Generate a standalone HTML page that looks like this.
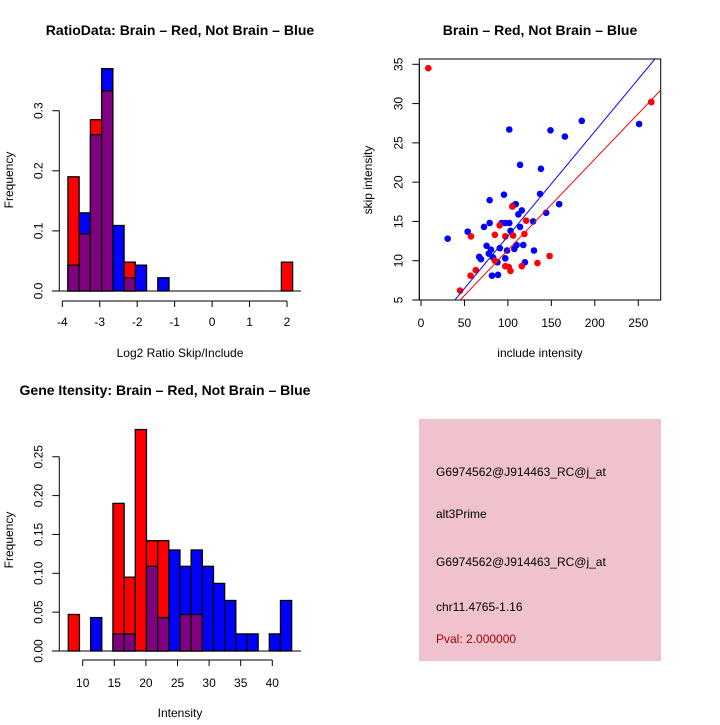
<!DOCTYPE html>
<html><head><meta charset="utf-8"><style>
body{margin:0;background:#fff}
svg text{font-family:"Liberation Sans",sans-serif;fill:#000}
</style></head><body>
<svg id="c" width="720" height="720" xmlns="http://www.w3.org/2000/svg">
<g id="p1"></g>
<g id="p2"></g>
<g id="p3"></g>
<g id="p4">
<rect x="419" y="419" width="242" height="242" fill="#f0c2cd"/>
<text x="436" y="476" font-size="12">G6974562@J914463_RC@j_at</text>
<text x="436" y="518" font-size="12">alt3Prime</text>
<text x="436" y="566" font-size="12">G6974562@J914463_RC@j_at</text>
<text x="436" y="611" font-size="12">chr11.4765-1.16</text>
<text x="436" y="643" font-size="12" style="fill:#a00000">Pval: 2.000000</text>
</g>
</svg>
<script>
// ---- Ratio histogram data ----
const ratioBinStarts=[-3.85,-3.55,-3.25,-2.95,-2.65,-2.35,-2.05,-1.45,1.85];
const ratioRed=[0.19,0.095,0.285,0.333,0,0.048,0,0,0.048];
const ratioBlue=[0.043,0.13,0.26,0.37,0.109,0.022,0.043,0.022,0];
const ratioBinWidth=0.3;
const ratioXTicks=[-4,-3,-2,-1,0,1,2];
const ratioYTicks=[0,0.1,0.2,0.3];
// ---- Scatter data ----
const redX=[8.4,45,57,57.5,63,85,85,90.5,97,97,101,103,105,106,116,119,121,134,148,265];
const redY=[34.5,6.2,8.1,13.1,8.8,13.3,10,14.5,13.1,9.3,9.2,8.7,16.9,13.2,9.3,13.4,15.1,9.7,10.6,30.2];
const blueX=[30.7,53.7,72.5,75.5,79,79,78,80.5,67,69,83,81.7,88.6,88,90.7,92.8,95.5,97,97,99,101.6,101.6,103,106,109,107.4,110,112,114,114,116,117.7,119.6,129,130,137,138,144,149,159,165.6,185,251,265];
const blueY=[12.8,13.7,14.3,11.9,17.7,14.8,10.9,11.4,10.5,10.2,10.4,8.1,8.2,9.8,11.6,14.8,18.4,14.8,10.3,11.3,26.7,14.8,13.8,17,17.2,11.5,12,15.9,22.2,14.3,16.4,12,9.8,15,11.3,18.5,21.7,16.1,26.6,17.2,25.8,27.8,27.4,30.2];
const blueFit=[-0.19,0.1332];
const redFit=[-0.21,0.1157];
const scXTicks=[0,50,100,150,200,250];
const scYTicks=[5,10,15,20,25,30,35];
// ---- Gene intensity histogram ----
const geneBinStart=7.72, geneBinWidth=1.767;
const geneRed=[0.047,0,0,0,0.19,0.095,0.285,0.142,0.142,0,0.047,0.047,0,0,0,0,0,0,0,0];
const geneBlue=[0,0,0.043,0,0.022,0.022,0,0.109,0.043,0.13,0.109,0.13,0.109,0.087,0.065,0.022,0.022,0,0.022,0.065];
const geneXTicks=[10,15,20,25,30,35,40];
const geneYTicks=[0,0.05,0.1,0.15,0.2,0.25];
const geneYLabels=["0.00","0.05","0.10","0.15","0.20","0.25"];

const NS="http://www.w3.org/2000/svg";
function mk(parent,tag,attrs,txt){const e=document.createElementNS(NS,tag);for(const k in attrs)e.setAttribute(k,attrs[k]);if(txt!==undefined)e.textContent=txt;parent.appendChild(e);return e;}

function yAxis(g,ticks,labels,sy,x){
  const ax=mk(g,'line',{x1:x,x2:x,y1:sy(ticks[0]),y2:sy(ticks[ticks.length-1]),stroke:'#000'});
  
  
  ticks.forEach((t,i)=>{
    mk(g,'line',{x1:x-7,x2:x,y1:sy(t),y2:sy(t),stroke:'#000'});
    const tx=mk(g,'text',{x:x-17,y:sy(t),'font-size':12,'text-anchor':'middle',transform:`rotate(-90 ${x-17} ${sy(t)})`},labels[i]);
    
    
  });
}
function xAxis(g,ticks,labels,sx,y,ly){
  const ax=mk(g,'line',{x1:sx(ticks[0]),x2:sx(ticks[ticks.length-1]),y1:y,y2:y,stroke:'#000'});
  
  
  ticks.forEach((t,i)=>{
    mk(g,'line',{x1:sx(t),x2:sx(t),y1:y,y2:y+6,stroke:'#000'});
    const tx=mk(g,'text',{x:sx(t),y:ly,'font-size':12,'text-anchor':'middle'},labels[i]);
    
    
  });
}
function label(g,x,y,txt,name,opts){
  const a=Object.assign({x:x,y:y,'font-size':12,'text-anchor':'middle'},opts||{});
  const t=mk(g,'text',a,txt);
  
  
}
function histBars(g,starts,w,red,blue,sx,sy){
  starts.forEach((s,i)=>{
    const r=red[i],b=blue[i];const mx=Math.max(r,b),mn=Math.min(r,b);
    if(mx<=0)return;
    const x0=sx(s),x1=sx(s+w);
    const bar=mk(g,'rect',{x:x0,y:sy(mx),width:x1-x0,height:sy(0)-sy(mx),fill:r>=b?'#ff0000':'#0000ff',stroke:'#000','stroke-width':1.3});
    
    
    if(mn>0){
      const ov=mk(g,'rect',{x:x0,y:sy(mn),width:x1-x0,height:sy(0)-sy(mn),fill:'#800080',stroke:'#000','stroke-width':1.3});
      
      
    }
  });
}

// Panel 1
(function(){
  const g=document.getElementById('p1');
  const sx=v=>62.3+(v+4)*37.45, sy=v=>291-v*601;
  histBars(g,ratioBinStarts,ratioBinWidth,ratioRed,ratioBlue,sx,sy);
  mk(g,'line',{x1:52,x2:301,y1:291,y2:291,stroke:'#000'});
  yAxis(g,ratioYTicks,["0.0","0.1","0.2","0.3"],sy,59.3);
  xAxis(g,ratioXTicks,ratioXTicks.map(String),sx,301,326);
  label(g,180,35,'RatioData: Brain – Red, Not Brain – Blue','plot-title',{'font-weight':'bold','font-size':14});
  label(g,180,357,'Log2 Ratio Skip/Include','x-axis-title');
  label(g,13,180,'Frequency','y-axis-title',{transform:'rotate(-90 13 180)'});
})();

// Panel 2
(function(){
  const g=document.getElementById('p2');
  const sx=v=>421+v*0.869, sy=v=>300-(v-5)*7.857;
  mk(g,'rect',{x:419.3,y:59,width:241.4,height:241,fill:'none',stroke:'#000'});
  yAxis(g,scYTicks,scYTicks.map(String),sy,419.3);
  xAxis(g,scXTicks,scXTicks.map(String),sx,300,327);
  const clip=mk(g,'clipPath',{id:'sc'});mk(clip,'rect',{x:419.3,y:59,width:241.4,height:241});
  blueX.forEach((x,i)=>{const c=mk(g,'circle',{cx:sx(x),cy:sy(blueY[i]),r:3.3,fill:'#0000ff'});
    
    });
  redX.forEach((x,i)=>{const c=mk(g,'circle',{cx:sx(x),cy:sy(redY[i]),r:3.3,fill:'#ff0000'});
    
    });
  [[blueFit,'#0000ff','blue-fit-line'],[redFit,'#ff0000','red-fit-line']].forEach(([f,col,nm])=>{
    const x0=-10,x1=300;
    const l=mk(g,'line',{x1:sx(x0),y1:sy(f[0]+f[1]*x0),x2:sx(x1),y2:sy(f[0]+f[1]*x1),stroke:col,'clip-path':'url(#sc)'});
    
    
  });
  label(g,540,35,'Brain – Red, Not Brain – Blue','plot-title',{'font-weight':'bold','font-size':14});
  label(g,540,357,'include intensity','x-axis-title');
  label(g,372,180,'skip intensity','y-axis-title',{transform:'rotate(-90 372 180)'});
})();

// Panel 3
(function(){
  const g=document.getElementById('p3');
  const sx=v=>82.7+(v-10)*6.32, sy=v=>651-v*777;
  const starts=geneRed.map((_,i)=>geneBinStart+i*geneBinWidth);
  histBars(g,starts,geneBinWidth,geneRed,geneBlue,sx,sy);
  mk(g,'line',{x1:52,x2:301,y1:651,y2:651,stroke:'#000'});
  yAxis(g,geneYTicks,geneYLabels,sy,59.3);
  xAxis(g,geneXTicks,geneXTicks.map(String),sx,660,687);
  label(g,165,395,'Gene Itensity: Brain – Red, Not Brain – Blue','plot-title',{'font-weight':'bold','font-size':14});
  label(g,180,717,'Intensity','x-axis-title');
  label(g,13,540,'Frequency','y-axis-title',{transform:'rotate(-90 13 540)'});
})();
</script>
</body></html>
